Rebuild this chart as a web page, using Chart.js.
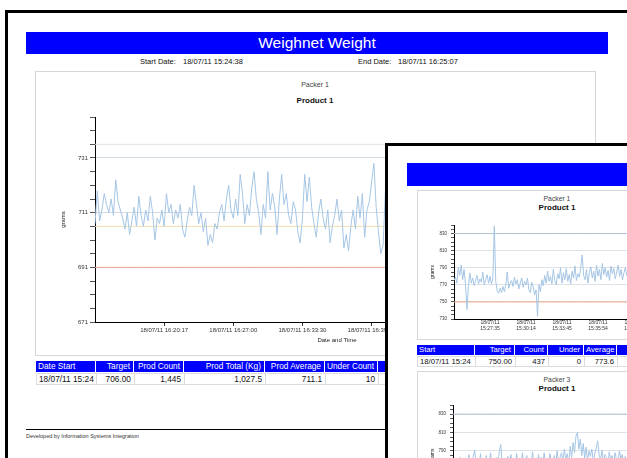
<!DOCTYPE html>
<html><head><meta charset="utf-8">
<script src="https://cdn.jsdelivr.net/npm/chart.js@4.4.1/dist/chart.umd.min.js"></script>
<style>
html,body{margin:0;padding:0;background:#fff;}
body{width:627px;height:458px;overflow:hidden;position:relative;font-family:"Liberation Sans",Arial,sans-serif;color:#111;}
.a{position:absolute;white-space:nowrap;box-sizing:border-box;}
.box{position:absolute;border:1px solid #d6d6d6;box-sizing:border-box;background:#fff;}
canvas{position:absolute;}
</style></head><body>
<div class="a" style="left:5px;top:10px;width:700px;height:500px;border-left:3px solid #000;border-top:3px solid #000;"></div>
<div class="a" style="left:26px;top:32px;width:582px;height:22px;background:#0000fe;color:#fff;font-size:15.5px;line-height:22px;text-align:center;">Weighnet Weight</div>
<div class="a" style="left:140px;top:57px;font-size:7.5px;line-height:9px;">Start Date:</div>
<div class="a" style="left:183px;top:57px;font-size:7.5px;line-height:9px;">18/07/11 15:24:38</div>
<div class="a" style="left:358px;top:57px;font-size:7.5px;line-height:9px;">End Date:</div>
<div class="a" style="left:398px;top:57px;font-size:7.5px;line-height:9px;">18/07/11 16:25:07</div>
<div class="box" style="left:35px;top:71px;width:561px;height:285px;"></div>
<div class="a" style="left:215px;width:200px;text-align:center;top:80px;font-size:7px;line-height:10px;color:#444;">Packer 1</div>
<div class="a" style="left:215px;width:200px;text-align:center;top:96px;font-size:8px;line-height:10px;font-weight:bold;">Product 1</div>
<canvas id="c1" width="556" height="240" style="left:36px;top:108px;width:556px;height:240px;"></canvas>
<div id="t1"></div>
<div class="a" style="left:26px;top:429px;width:360px;height:1px;background:#000;"></div>
<div class="a" style="left:26px;top:432px;font-size:5.5px;line-height:8px;color:#333;">Developed by Information Systems Integration</div>

<div id="inset" class="a" style="left:385px;top:143px;width:400px;height:400px;border-left:3px solid #000;border-top:3px solid #000;background:#fff;">
  <div class="a" style="left:19px;top:17px;width:300px;height:23px;background:#0000fe;"></div>
  <div class="box" style="left:29px;top:44px;width:281px;height:150px;"></div>
  <div class="a" style="left:69px;width:200px;text-align:center;top:48px;font-size:6.8px;line-height:9px;color:#444;">Packer 1</div>
  <div class="a" style="left:69px;width:200px;text-align:center;top:57px;font-size:8px;line-height:10px;font-weight:bold;">Product 1</div>
  <canvas id="c2" width="290" height="122" style="left:30px;top:69px;width:290px;height:122px;"></canvas>
  <div id="t2"></div>
  <div class="box" style="left:29px;top:225px;width:281px;height:200px;"></div>
  <div class="a" style="left:69px;width:200px;text-align:center;top:229px;font-size:6.8px;line-height:9px;color:#444;">Packer 3</div>
  <div class="a" style="left:69px;width:200px;text-align:center;top:238px;font-size:8px;line-height:10px;font-weight:bold;">Product 1</div>
  <canvas id="c3" width="290" height="128" style="left:30px;top:250px;width:290px;height:128px;"></canvas>
</div>

<script>
// ---------- DATA ----------
const mainTickLabels = ["18/07/11 16:20:17", "18/07/11 16:27:00", "18/07/11 16:33:30", "18/07/11 16:39:59"];
const mainWeights = [
  707,719,708,712,718,714,711,716,710,723,
  715,712,709,705,711,703,708,713,706,717,
  710,706,712,708,717,711,701,709,707,712,
  706,718,711,714,707,712,709,714,705,702,
  708,713,710,721,714,707,711,704,709,699,
  703,700,707,705,711,714,708,716,721,712,
  709,716,710,725,718,707,714,710,720,726,
  716,711,703,714,709,726,712,718,713,703,
  716,725,714,718,710,707,715,712,704,700,
  709,725,715,724,713,707,702,711,716,709,
  705,712,700,706,710,716,708,712,698,703,
  697,706,712,705,717,709,718,702,712,715,
  722,729,713,704,696,699,719,712,
  712,707,718,710,704,714,709,721,713,706,
  711,716,703,709,715,708,719,712,705,710,
  717,709,702,711,714,720,708,713,706,716,
  710,704,712,718,709,707,715,711,722,713,
  705,710,716,708,701,709,714,719,711,706,
  712,717,708,704,713,710,720,714,707,711,
  706,716,709,703,712,718,710,715,707,713,
  709,721,712,705,710,716,708,714,711,706,
  713,709,712
];
const mainLimits = [736, 706, 691];

const packer1TickLabels = [["18/07/11","15:27:35"],["18/07/11","15:30:14"],["18/07/11","15:33:45"],["18/07/11","15:35:54"],["18/07/11","15:40:04"]];
const packer1Weights = [
  775,779,772,790,781,793,776,788,770,741,
  768,784,772,778,769,775,781,771,777,773,
  785,770,776,782,772,780,771,778,839,774,
  763,760,766,761,768,762,770,785,766,772,
  775,768,779,771,776,765,772,778,767,774,
  770,778,764,761,773,768,758,764,733,770,
  762,776,769,781,772,786,774,780,771,788,
  775,770,783,777,790,772,784,776,789,774,
  782,771,786,778,792,775,783,779,790,805,
  781,776,788,772,784,791,778,786,774,793,
  780,788,776,795,782,790,779,787,775,792,
  783,789,777,785,793,780,788,776,784,790,
  781,777,785,791,779,787,774,783,790,778,
  786,781,794,776,784,789,775,782,788,779,
  785,792,777,783,790,780,786,774,781,787,
  779
];
const packer3Weights = [
  778,772,781,770,776,783,771,777,769,780,
  774,786,772,779,784,791,775,781,770,787,
  776,782,773,785,771,778,788,774,780,772,
  783,777,789,797,776,781,770,778,784,772,
  786,775,780,771,787,776,782,774,788,773,
  779,785,772,781,776,789,774,782,771,786,
  778,783,773,788,776,781,774,787,779,772,
  785,777,790,775,783,788,779,792,781,787,
  776,795,783,799,788,806,810,792,803,785,
  798,782,794,779,790,784,792,778,787,793,
  801,786,780,791,777,786,783,774,789,780,
  785,776,788,781,777,790,782,786,775,784,
  779,784,778,789,775,782,787,773,780,786,
  777,783,790,776,781,788,774,785,779,783,
  776,789,781,785,772,780,787,778,784,777,
  782
];
const insetLimits = [830, 750];

const mainTableHeaders = ["Date Start","Target","Prod Count","Prod Total (Kg)","Prod Average","Under Count",""];
const mainTableValues = ["18/07/11 15:24","706.00","1,445","1,027.5","711.1","10",""];
const insetTableHeaders = ["Start","Target","Count","Under","Average",""];
const insetTableValues = ["18/07/11 15:24","750.00","437","0","773.6",""];

// ---------- TABLES ----------
function buildTable(parent, ox, oy, bounds, headers, values, o) {
  const p = document.getElementById(parent);
  for (let i = 0; i < headers.length; i++) {
    const w = bounds[i+1] - bounds[i];
    const align = i === 0 ? 'left' : 'right';
    const h = document.createElement('div');
    h.className = 'a';
    h.style.cssText = `left:${bounds[i]-ox}px;top:${o.hy-oy}px;width:${w-1}px;height:${o.hh}px;background:#0000fe;color:#fff;font-size:${o.fs}px;line-height:${o.hh}px;text-align:${align};padding:0 3px 0 2px;overflow:hidden;`;
    h.textContent = headers[i];
    p.appendChild(h);
    const d = document.createElement('div');
    d.className = 'a';
    d.style.cssText = `left:${bounds[i]-ox}px;top:${o.dy-oy}px;width:${w+1}px;height:${o.dh}px;border:1px solid #dcdcdc;color:#111;font-size:${o.fs}px;line-height:${o.dh-2}px;text-align:${align};padding:0 3px 0 2px;overflow:hidden;`;
    d.textContent = values[i];
    p.appendChild(d);
  }
}
buildTable('t1', 0, 0, [36,96,134,184,265,325,378,440], mainTableHeaders, mainTableValues, {hy:361, hh:11, dy:373, dh:12, fs:8.3});
buildTable('t2', 388, 146, [417,475,515,548,584,617,680], insetTableHeaders, insetTableValues, {hy:345, hh:10, dy:356, dh:11, fs:7.7});

// ---------- CHARTS ----------
Chart.defaults.font.family = "'Liberation Sans', Arial, sans-serif";
Chart.defaults.animation = false;

function lineChart(id, o) {
  const n = o.values.length;
  const idx = o.values.map((_, i) => i);
  const tickIdx = o.tickLabels.map((_, k) => Math.round((k + 1) * (n - 1) / o.intervals));
  const labelAt = {};
  tickIdx.forEach((t, k) => { labelAt[t] = o.tickLabels[k]; });
  const datasets = [{data: o.values, borderColor: '#a6c6e5', borderWidth: 1, pointRadius: 0, order: 0}];
  o.limits.forEach((v, k) => datasets.push({data: idx.map(() => v), borderColor: o.limitColors[k], borderWidth: 1, pointRadius: 0, order: 1}));
  return new Chart(document.getElementById(id), {
    type: 'line',
    data: {labels: idx, datasets},
    options: {
      responsive: false, animation: false, devicePixelRatio: 1,
      layout: {padding: o.pad},
      plugins: {legend: {display: false}, tooltip: {enabled: false}},
      elements: {line: {tension: 0}},
      scales: {
        x: {
          type: 'category',
          afterBuildTicks: ax => { ax.ticks = tickIdx.map(v => ({value: v})); },
          afterFit: s => { s.height = o.xH; },
          ticks: {autoSkip: false, maxRotation: 0, minRotation: 0, padding: o.xTickPad, font: {size: o.xFont}, color: '#333',
                  callback: v => (labelAt[v] !== undefined ? labelAt[v] : '')},
          grid: {drawOnChartArea: false, tickLength: o.xTickLen, color: '#333', tickColor: '#333'},
          border: {display: true, color: '#000', width: 1},
          title: {display: !!o.xTitle, text: o.xTitle || '', font: {size: o.xFont}, color: '#222', padding: {top: 0, bottom: 4}}
        },
        y: {
          min: o.yMin, max: o.yMax,
          afterFit: s => { s.width = o.yW; },
          ticks: {stepSize: o.yStep, autoSkip: false, padding: o.yTickPad, font: {size: o.yFont}, color: '#333',
                  callback: v => ((v - o.yMin) % o.yLabelEvery === 0 ? String(v) : '')},
          grid: {tickLength: o.yTickLen, tickColor: '#555', lineWidth: 1,
                 color: c => (c.tick && (c.tick.value - o.yMin) % o.yLabelEvery === 0 ? o.gridColor : 'rgba(0,0,0,0)')},
          border: {display: true, color: '#000', width: 1},
          title: {display: true, text: 'grams', font: {size: o.yTitleFont}, color: '#222', padding: {top: o.yTitlePad, bottom: 0}}
        }
      }
    }
  });
}

lineChart('c1', {
  values: mainWeights, tickLabels: mainTickLabels, intervals: 7,
  limits: mainLimits, limitColors: ['#dadfe4', '#f1dca8', '#f2a68e'],
  pad: {left: 20, right: 13, top: 9, bottom: 0}, yW: 39, xH: 26,
  yMin: 671, yMax: 746, yStep: 5, yLabelEvery: 20,
  xFont: 6, yFont: 6, yTitleFont: 6, xTickPad: 1, xTickLen: 4, yTickPad: 2, yTickLen: 5, yTitlePad: 4,
  xTitle: 'Date and Time', gridColor: '#d3dbe3'
});
lineChart('c2', {
  values: packer1Weights, tickLabels: packer1TickLabels, intervals: 6,
  limits: insetLimits, limitColors: ['#a9bfd3', '#f0a283'],
  pad: {left: 10, right: 38, top: 10, bottom: 0}, yW: 26, xH: 18,
  yMin: 730, yMax: 840, yStep: 5, yLabelEvery: 20,
  xFont: 5, yFont: 4.5, yTitleFont: 5, xTickPad: -1, xTickLen: 2, yTickPad: 4, yTickLen: 3, yTitlePad: 2,
  xTitle: '', gridColor: '#dde2e7'
});
lineChart('c3', {
  values: packer3Weights, tickLabels: [], intervals: 6,
  limits: insetLimits, limitColors: ['#a9bfd3', '#f0a283'],
  pad: {left: 10, right: 38, top: 9, bottom: 0}, yW: 25, xH: 18,
  yMin: 730, yMax: 840, yStep: 5, yLabelEvery: 20,
  xFont: 5, yFont: 4.5, yTitleFont: 5, xTickPad: -1, xTickLen: 2, yTickPad: 4, yTickLen: 3, yTitlePad: 2,
  xTitle: '', gridColor: '#dde2e7'
});
</script>
</body></html>
